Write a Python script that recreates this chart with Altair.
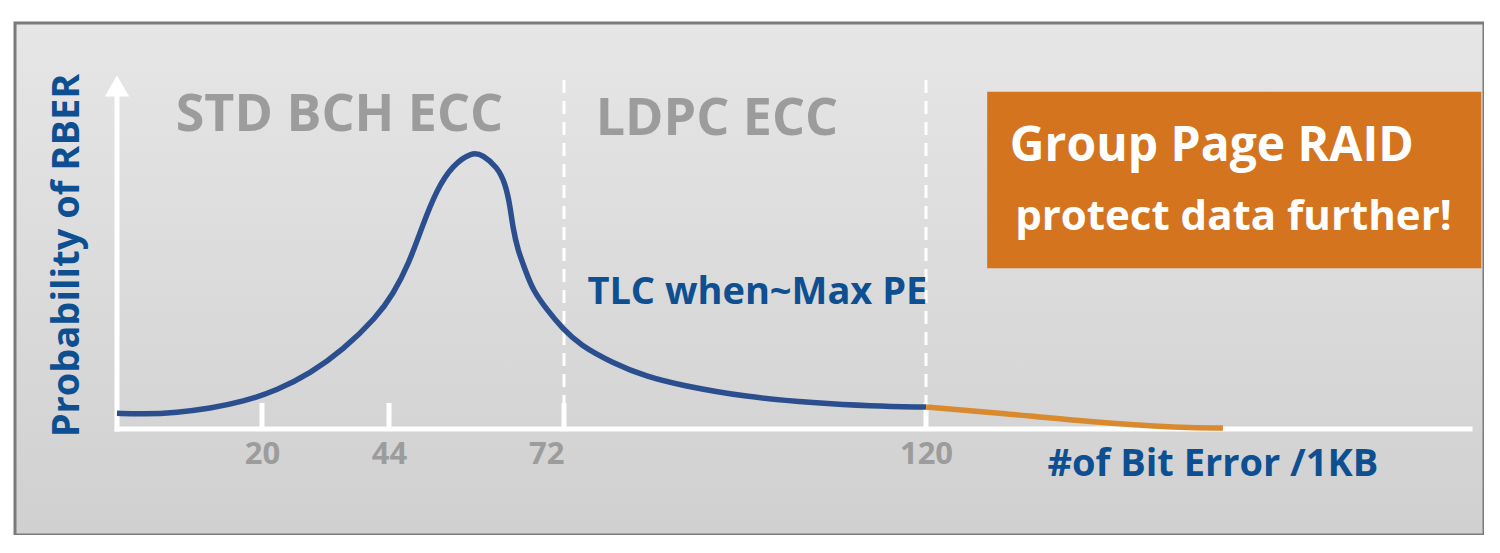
import altair as alt
import pandas as pd

# ---- data (schematic units) ----
# x: number of bit errors per 1KB, y: relative probability (0-100)
tlc_x = [0, 3.6, 8.3, 12.8, 17.4, 22.8, 29.1, 35.3, 41.7, 44.6, 47.2, 49.3, 51.6, 54.2,
         57.3, 59.0, 61.3, 62.6, 63.4, 63.8, 64.6, 65.8, 67.0, 69.3, 71.7, 74.1, 78.5,
         83.0, 87.4, 96.1, 105.3, 112.6, 120]
tlc_y = [4.6, 4.3, 4.8, 6.0, 8.0, 11.2, 16.2, 23.0, 32.7, 39.1, 48.3, 59.0, 69.7, 77.0,
         80.8, 79.9, 76.4, 71.7, 64.7, 58.9, 52.2, 46.4, 40.5, 34.7, 29.4, 24.5, 19.2,
         15.2, 12.8, 9.3, 7.6, 6.7, 6.4]
raid_x = [120, 129.7, 141.7, 153.9, 159.3]
raid_y = [6.4, 4.7, 2.0, 0.3, 0.3]

tick_values = [20, 44, 72, 120]
ecc_limits = [72, 120]

region_labels = ["STD BCH ECC", "LDPC ECC"]
region_x = [8.1, 76.2]
region_y = [86.9, 85.7]

curve_label = ["TLC when~Max PE"]
curve_label_x = [75.1]
curve_label_y = [36.4]

box_x = [128.1]
box_x2 = [193.5]
box_y = [98.3]
box_y2 = [46.9]
box_lines = ["Group Page RAID", "protect data further!"]
box_lines_x = [131.1, 131.8]
box_lines_y = [78.0, 58.0]

x_title = "#of Bit Error /1KB"
y_title = "Probability of RBER"

# axis extents (data units)
x_axis_end = 192
y_axis_end = 100
tick_len = 7.6
dash_top = 103

# ---- styles ----
BLUE_TXT = "#0d4f91"
BLUE_LINE = "#2b4f8e"
ORANGE_LINE = "#d98a2f"
ORANGE_BOX = "#d4741f"
GRAY_TXT = "#9c9c9c"
FONT = "Open Sans"

xs = alt.Scale(domain=[0, 20, 44, 72, 120, 192],
               range=[102, 247, 374, 549, 911, 1455], nice=False, zero=False)
ys = alt.Scale(domain=[0, 100], range=[406, 63], nice=False, zero=False)

xaxis = alt.Axis(
    values=tick_values, orient="bottom", offset=-106, domain=False, ticks=False,
    tickSize=0, grid=False, labelFont=FONT, labelFontSize=31, labelFontWeight="bold",
    labelColor=GRAY_TXT, labelBaseline="alphabetic", labelPadding=34,
    labelAlign={"condition": {"test": "datum.value == 72", "value": "right"}, "value": "center"},
    labelFlush=False, labelOverlap=False, labelBound=False,
    title=x_title, titleFont=FONT, titleFontSize=38, titleFontWeight="bold",
    titleColor=BLUE_TXT, titleX=1032, titleY=46, titleAlign="left",
    titleBaseline="alphabetic", zindex=1,
)
yaxis = alt.Axis(
    orient="left", offset=-102, domain=False, ticks=False, labels=False, grid=False,
    title=y_title, titleFont=FONT, titleFontSize=38, titleFontWeight="bold",
    titleColor=BLUE_TXT, titleAngle=270, titleX=-39, titleY=232, titleAlign="center",
    titleBaseline="alphabetic", zindex=1,
)


def X(f):
    return alt.X(f, type="quantitative", scale=xs, axis=xaxis)


def Y(f):
    return alt.Y(f, type="quantitative", scale=ys, axis=yaxis)


one = pd.DataFrame({"k": [0]})

bg = alt.Chart(one).mark_rect(
    fill=alt.LinearGradient(
        gradient="linear", x1=0, y1=0, x2=0, y2=1,
        stops=[alt.GradientStop(offset=0, color="#e6e6e6"),
               alt.GradientStop(offset=1, color="#d0d0d0")]),
    stroke="#7b7b7b", strokeWidth=3,
).encode(x=alt.value(0), x2=alt.value("width"), y=alt.value(0), y2=alt.value("height"))

axes_df = pd.DataFrame({"x": [0, 0], "x2": [x_axis_end, 0], "y": [0, 0], "y2": [0, y_axis_end]})
axis_lines = alt.Chart(axes_df).mark_rule(color="white", strokeWidth=5, strokeCap="square").encode(
    x=X("x"), x2="x2", y=Y("y"), y2="y2")

arrow = alt.Chart(pd.DataFrame({"x": [0], "y": [y_axis_end]})).mark_point(
    shape="triangle-up", size=600, filled=True, fill="white", opacity=1, strokeWidth=0
).encode(x=X("x"), y=Y("y"))

ticks_df = pd.DataFrame({"x": tick_values, "y": [0] * len(tick_values), "y2": [tick_len] * len(tick_values)})
ticks = alt.Chart(ticks_df).mark_rule(color="white", strokeWidth=5).encode(
    x=X("x"), y=Y("y"), y2="y2")

dash_df = pd.DataFrame({"x": ecc_limits, "y": [0] * len(ecc_limits), "y2": [dash_top] * len(ecc_limits)})
dashes = alt.Chart(dash_df).mark_rule(color="white", strokeWidth=3, strokeDash=[13, 8]).encode(
    x=X("x"), y=Y("y"), y2="y2")

tlc = alt.Chart(pd.DataFrame({"x": tlc_x, "y": tlc_y})).mark_line(
    color=BLUE_LINE, strokeWidth=5.5, interpolate="basis", strokeCap="butt"
).encode(x=X("x"), y=Y("y"), order=alt.Order("x:Q"))

raid = alt.Chart(pd.DataFrame({"x": raid_x, "y": raid_y})).mark_line(
    color=ORANGE_LINE, strokeWidth=5.5, interpolate="basis", strokeCap="butt"
).encode(x=X("x"), y=Y("y"), order=alt.Order("x:Q"))

box = alt.Chart(pd.DataFrame({"x": box_x, "x2": box_x2, "y": box_y, "y2": box_y2})).mark_rect(
    color=ORANGE_BOX).encode(x=X("x"), x2="x2", y=Y("y"), y2="y2")

regions = alt.Chart(pd.DataFrame({"t": region_labels, "x": region_x, "y": region_y})).mark_text(
    font=FONT, fontSize=52, fontWeight="bold", color=GRAY_TXT, align="left", baseline="alphabetic"
).encode(x=X("x"), y=Y("y"), text="t:N")

curve_txt = alt.Chart(pd.DataFrame({"t": curve_label, "x": curve_label_x, "y": curve_label_y})).mark_text(
    font=FONT, fontSize=38, fontWeight="bold", color=BLUE_TXT, align="left", baseline="alphabetic"
).encode(x=X("x"), y=Y("y"), text="t:N")

box_df = pd.DataFrame({"t": box_lines, "x": box_lines_x, "y": box_lines_y, "s": [48, 42]})
box_txt = alt.Chart(box_df).mark_text(
    font=FONT, fontWeight="bold", color="white", align="left", baseline="alphabetic"
).encode(x=X("x"), y=Y("y"), text="t:N",
         size=alt.Size("s:Q", scale=None, legend=None))

chart = alt.layer(
    bg, axis_lines, ticks, dashes, arrow, tlc, raid, box, regions, curve_txt, box_txt
).properties(
    width=1469, height=512, autosize="none",
    padding={"left": 7, "top": 15, "right": 0, "bottom": 0},
    background="white",
).configure_view(stroke=None)

chart.save("out.html", embed_options={"renderer": "svg", "actions": False})
